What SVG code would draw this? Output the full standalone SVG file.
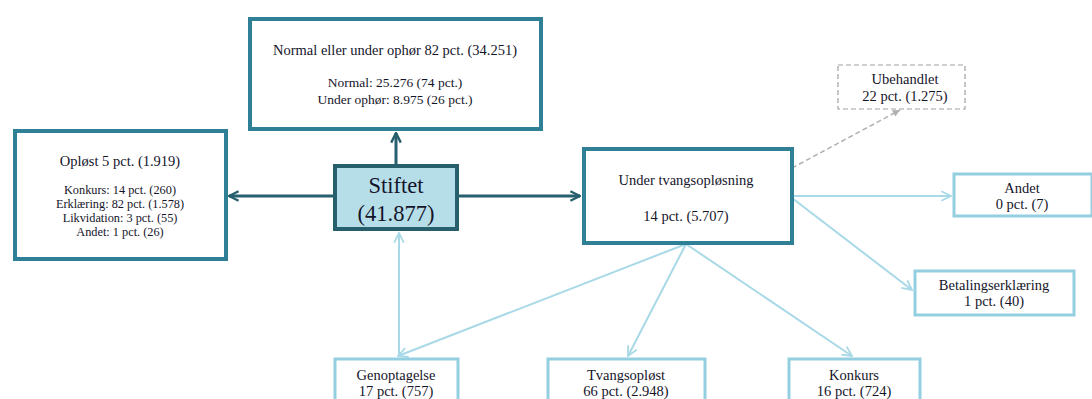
<svg xmlns="http://www.w3.org/2000/svg" width="1092" height="399" viewBox="0 0 1092 399">
<defs>
<style>
text{font-family:"Liberation Serif","Times New Roman",serif;fill:#15152a;text-anchor:middle}
.main{fill:#fff;stroke:#2f7f96;stroke-width:4}
.light{fill:#fff;stroke:#93cfe0;stroke-width:3}
.dash{fill:#fff;stroke:#a0a0a0;stroke-width:1.2;stroke-dasharray:5 3}
.dk{stroke:#275f6e;stroke-width:3;fill:none}
.lt{stroke:#a8d9e7;stroke-width:2;fill:none}
.gd{stroke:#b0b0b0;stroke-width:1.5;fill:none;stroke-dasharray:5 3}
.t14{font-size:14.5px}
.t13{font-size:13.5px}
.t10{font-size:12.3px}
</style>
<marker id="ad" viewBox="0 0 10 10" refX="9" refY="5" markerWidth="4" markerHeight="4" orient="auto" markerUnits="strokeWidth"><path d="M1,1 L9,5 L1,9" fill="none" stroke="#275f6e" stroke-width="2"/></marker>
<marker id="al" viewBox="0 0 10 10" refX="9" refY="5" markerWidth="6" markerHeight="6" orient="auto" markerUnits="strokeWidth"><path d="M1,1 L9,5 L1,9" fill="none" stroke="#a8d9e7" stroke-width="1.5"/></marker>
<marker id="ag" viewBox="0 0 10 10" refX="9" refY="5" markerWidth="6" markerHeight="6" orient="auto" markerUnits="strokeWidth"><path d="M1,1 L9,5 L1,9 z" fill="#b0b0b0"/></marker>
</defs>
<g id="connectors">
<line class="dk" x1="396" y1="165" x2="396" y2="133" marker-end="url(#ad)"/>
<line class="dk" x1="333" y1="196" x2="229" y2="196" marker-end="url(#ad)"/>
<line class="dk" x1="458" y1="196" x2="580" y2="196" marker-end="url(#ad)"/>
<line class="lt" x1="399" y1="357" x2="399" y2="233" marker-end="url(#al)"/>
<line class="lt" x1="686" y1="244" x2="398" y2="356" marker-end="url(#al)"/>
<line class="lt" x1="686" y1="244" x2="628" y2="356" marker-end="url(#al)"/>
<line class="lt" x1="686" y1="244" x2="852" y2="356" marker-end="url(#al)"/>
<line class="lt" x1="792" y1="196" x2="951" y2="196" marker-end="url(#al)"/>
<line class="lt" x1="792" y1="198" x2="912" y2="290" marker-end="url(#al)"/>
<line class="gd" x1="792" y1="168" x2="900" y2="110" marker-end="url(#ag)"/>
</g>
<g id="node-top">
<rect class="main" x="250" y="19" width="291" height="110"/>
<text class="t14" x="395" y="55">Normal eller under ophør 82 pct. (34.251)</text>
<text class="t13" x="395" y="87">Normal: 25.276 (74 pct.)</text>
<text class="t13" x="395" y="104">Under ophør: 8.975 (26 pct.)</text>
</g>
<g id="node-oploest">
<rect class="main" x="15" y="131" width="211" height="128"/>
<text class="t14" x="120" y="166">Opløst 5 pct. (1.919)</text>
<text class="t10" x="120" y="194">Konkurs: 14 pct. (260)</text>
<text class="t10" x="120" y="208">Erklæring: 82 pct. (1.578)</text>
<text class="t10" x="120" y="222">Likvidation: 3 pct. (55)</text>
<text class="t10" x="120" y="236">Andet: 1 pct. (26)</text>
</g>
<g id="node-stiftet">
<rect x="335" y="166" width="122" height="63" fill="#b6dee9" stroke="#285f6d" stroke-width="4"/>
<text x="396" y="193" style="font-size:22.5px">Stiftet</text>
<text x="396" y="221" style="font-size:22.5px">(41.877)</text>
</g>
<g id="node-tvang">
<rect class="main" x="584" y="149" width="208" height="94"/>
<text class="t14" x="686" y="185">Under tvangsopløsning</text>
<text class="t14" x="686" y="221">14 pct. (5.707)</text>
</g>
<g id="node-ubehandlet">
<rect class="dash" x="838" y="65" width="127" height="44"/>
<text class="t14" x="905" y="84">Ubehandlet</text>
<text class="t14" x="905" y="101">22 pct. (1.275)</text>
</g>
<g id="node-andet">
<rect class="light" x="954" y="174" width="138" height="42"/>
<text class="t14" x="1022" y="193">Andet</text>
<text class="t14" x="1022" y="209">0 pct. (7)</text>
</g>
<g id="node-betaling">
<rect class="light" x="915" y="271" width="159" height="44"/>
<text class="t14" x="994" y="290">Betalingserklæring</text>
<text class="t14" x="994" y="306">1 pct. (40)</text>
</g>
<g id="node-genoptagelse">
<rect class="light" x="335" y="359" width="123" height="45"/>
<text class="t14" x="396" y="380">Genoptagelse</text>
<text class="t14" x="396" y="396">17 pct. (757)</text>
</g>
<g id="node-tvangsoploest">
<rect class="light" x="548" y="359" width="157" height="45"/>
<text class="t14" x="626" y="380">Tvangsopløst</text>
<text class="t14" x="626" y="396">66 pct. (2.948)</text>
</g>
<g id="node-konkurs">
<rect class="light" x="789" y="359" width="131" height="45"/>
<text class="t14" x="854" y="380">Konkurs</text>
<text class="t14" x="854" y="396">16 pct. (724)</text>
</g>
</svg>
